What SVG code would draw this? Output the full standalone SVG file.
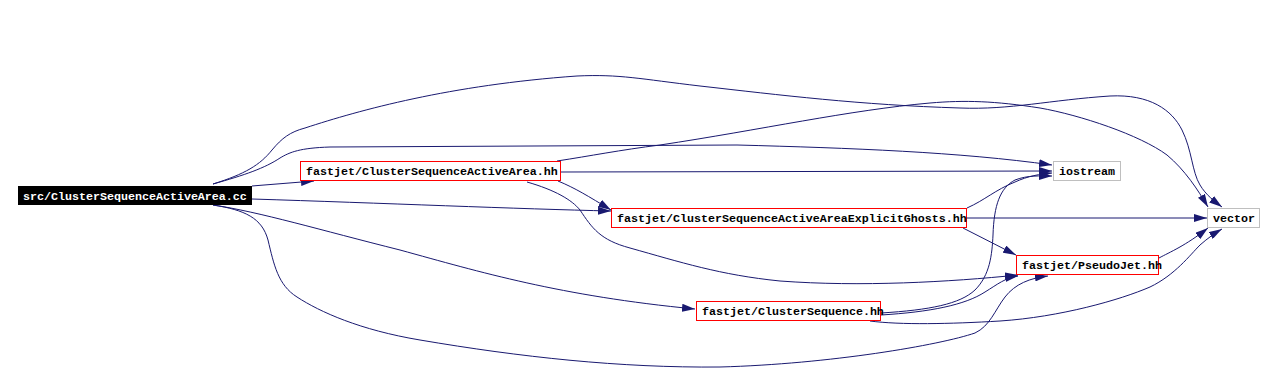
<svg xmlns="http://www.w3.org/2000/svg" width="1276" height="392" viewBox="0 0 1276 392">
<style>
.e{fill:none;stroke:#191970;stroke-width:1;marker-end:url(#ah)}
.n rect{stroke-width:1}
.hh rect{fill:#ffffff;stroke:#ff0000}
.sys rect{fill:#ffffff;stroke:#bfbfbf}
.root rect{fill:#000000;stroke:#000000}
text{font-family:"Liberation Mono","DejaVu Sans Mono",monospace;font-weight:bold;font-size:11.67px;fill:#000000}
.root text{fill:#ffffff}
</style>
<defs>
<marker id="ah" viewBox="0 0 13 8" refX="13" refY="4" markerWidth="13" markerHeight="8" markerUnits="userSpaceOnUse" orient="auto">
<path d="M0,0 L13,4 L0,8 z" fill="#191970"/>
</marker>
</defs>
<rect x="0" y="0" width="1276" height="392" fill="#ffffff"/>
<g id="connectors">
<path class="e" d="M252,186 L314,181"/>
<path class="e" d="M252,199 C380,203 520,209 611,211"/>
<path class="e" d="M213,205 C260,212 320,230 400,250 C480,272 560,296 695,309"/>
<path class="e" d="M213,205 C245,210 262,218 268,240 C274,265 278,285 297,297 C320,312 360,330 420,340 C520,357 620,368 720,367 C830,364 940,345 975,333 C990,326 995,310 1005,297 C1015,284 1030,278 1048,276"/>
<path class="e" d="M213,184 C245,175 265,168 280,158 C290,152 300,148 330,147 L737,145 C850,148 960,152 1052,165"/>
<path class="e" d="M213,184 C245,174 260,165 272,150 C282,138 290,132 305,128 C360,110 450,85 577,76 C620,74 640,79 700,86 C780,95 860,105 960,108 C1010,110 1050,100 1110,96 C1150,94 1172,110 1182,130 C1192,150 1192,172 1200,185 C1206,195 1214,201 1222,207"/>
<path class="e" d="M557,161 C590,156 620,150 660,145 C760,130 850,110 930,103 C965,100 995,101 1040,108 C1080,115 1140,135 1167,155 C1185,170 1198,190 1208,207"/>
<path class="e" d="M561,172 L1052,171"/>
<path class="e" d="M558,181 C575,188 588,196 611,210"/>
<path class="e" d="M527,182 C555,190 572,200 580,210 C592,228 600,240 630,248 C680,262 720,275 780,281 C860,287 950,282 1018,275"/>
<path class="e" d="M967,208 C985,200 995,190 1015,182 C1028,176 1040,174 1052,173"/>
<path class="e" d="M967,218 L1207,218"/>
<path class="e" d="M963,228 L1016,255"/>
<path class="e" d="M881,313 C930,310 960,304 975,290 C990,275 992,255 993,235 C994,205 1000,188 1015,180 C1028,175 1040,176 1052,176"/>
<path class="e" d="M881,315 C930,312 965,305 985,292 C998,284 1005,278 1018,276"/>
<path class="e" d="M870,321 C900,325 950,324 1000,321 C1060,317 1120,300 1150,287 C1175,275 1190,255 1200,245 C1208,238 1215,233 1222,229"/>
<path class="e" d="M1159,258 C1170,252 1185,246 1208,228"/>
</g>
<g id="node_src" class="n root">
<rect x="18.5" y="186.5" width="233" height="18"/>
<text x="23" y="200">src/ClusterSequenceActiveArea.cc</text>
</g>
<g id="node_csaa" class="n hh">
<rect x="300.5" y="161.5" width="260" height="19"/>
<text x="306" y="175">fastjet/ClusterSequenceActiveArea.hh</text>
</g>
<g id="node_csaaeg" class="n hh">
<rect x="611.5" y="208.5" width="355" height="19"/>
<text x="617" y="222">fastjet/ClusterSequenceActiveAreaExplicitGhosts.hh</text>
</g>
<g id="node_iostream" class="n sys">
<rect x="1053.5" y="161.5" width="67" height="19"/>
<text x="1059" y="175">iostream</text>
</g>
<g id="node_vector" class="n sys">
<rect x="1207.5" y="208.5" width="52" height="19"/>
<text x="1213" y="222">vector</text>
</g>
<g id="node_pseudojet" class="n hh">
<rect x="1016.5" y="255.5" width="142" height="19"/>
<text x="1022" y="269">fastjet/PseudoJet.hh</text>
</g>
<g id="node_cs" class="n hh">
<rect x="696.5" y="301.5" width="184" height="19"/>
<text x="702" y="315">fastjet/ClusterSequence.hh</text>
</g>
</svg>
